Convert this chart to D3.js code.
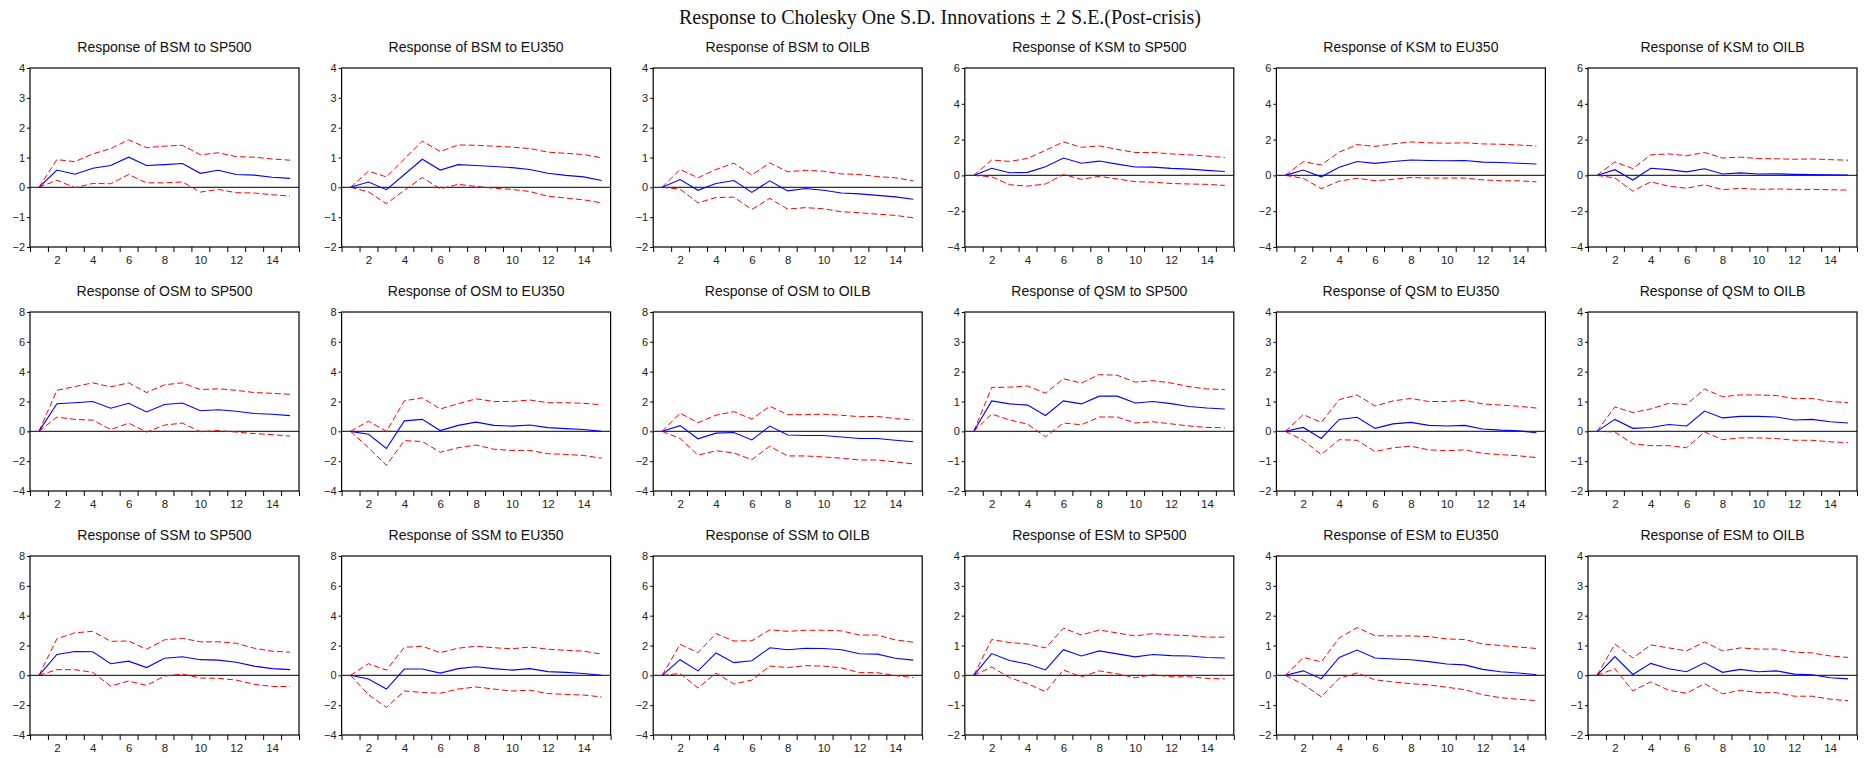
<!DOCTYPE html>
<html>
<head>
<meta charset="utf-8">
<script src="https://cdn.jsdelivr.net/npm/d3@7"></script>
<style>
  body { margin: 0; background: #fff; }
  svg { display: block; }
  .tick text { font-family: "Liberation Sans Narrow", "Arial Narrow", "Liberation Sans", Arial, sans-serif; fill: #222; }
  .ptitle { font-family: "Liberation Sans Narrow", "Arial Narrow", "Liberation Sans", Arial, sans-serif; font-size: 14px; fill: #111; }
  .mtitle { font-family: "Liberation Serif", "Times New Roman", serif; font-size: 20px; fill: #111; }
</style>
</head>
<body>
<svg width="1868" height="758"></svg>
<script>
const svg = d3.select('svg');

const mainTitle = "Response to Cholesky One S.D. Innovations \u00b1 2 S.E.(Post-crisis)";

const periods = [1, 2, 3, 4, 5, 6, 7, 8, 9, 10, 11, 12, 13, 14, 15];
const xLabels = [2, 4, 6, 8, 10, 12, 14];

const panelTitles = [
  "Response of BSM to SP500", "Response of BSM to EU350", "Response of BSM to OILB",
  "Response of KSM to SP500", "Response of KSM to EU350", "Response of KSM to OILB",
  "Response of OSM to SP500", "Response of OSM to EU350", "Response of OSM to OILB",
  "Response of QSM to SP500", "Response of QSM to EU350", "Response of QSM to OILB",
  "Response of SSM to SP500", "Response of SSM to EU350", "Response of SSM to OILB",
  "Response of ESM to SP500", "Response of ESM to EU350", "Response of ESM to OILB"
];

// y axis range and tick step of each panel
const yRanges = [
  [-2, 4], [-2, 4], [-2, 4], [-4, 6], [-4, 6], [-4, 6],
  [-4, 8], [-4, 8], [-4, 8], [-2, 4], [-2, 4], [-2, 4],
  [-4, 8], [-4, 8], [-4, 8], [-2, 4], [-2, 4], [-2, 4]
];
const yTickSteps = [1, 1, 1, 2, 2, 2, 2, 2, 2, 1, 1, 1, 2, 2, 2, 1, 1, 1];

// impulse responses (blue)
const responseMid = [
  [0, 0.58, 0.44, 0.64, 0.73, 1.01, 0.73, 0.76, 0.80, 0.47, 0.57, 0.43, 0.41, 0.34, 0.30],
  [0, 0.18, -0.08, 0.43, 0.94, 0.58, 0.76, 0.73, 0.70, 0.66, 0.60, 0.47, 0.40, 0.35, 0.23],
  [0, 0.26, -0.10, 0.13, 0.23, -0.17, 0.22, -0.12, -0.04, -0.10, -0.19, -0.22, -0.27, -0.32, -0.40],
  [0, 0.40, 0.15, 0.17, 0.48, 0.97, 0.68, 0.80, 0.63, 0.47, 0.46, 0.39, 0.35, 0.28, 0.22],
  [0, 0.30, -0.08, 0.45, 0.78, 0.67, 0.78, 0.86, 0.83, 0.82, 0.83, 0.74, 0.72, 0.68, 0.64],
  [0, 0.32, -0.26, 0.40, 0.32, 0.20, 0.37, 0.08, 0.14, 0.08, 0.09, 0.06, 0.05, 0.04, 0.02],
  [0, 1.85, 1.92, 2.00, 1.55, 1.88, 1.30, 1.80, 1.90, 1.38, 1.45, 1.35, 1.20, 1.15, 1.05],
  [0, -0.20, -1.15, 0.70, 0.80, 0.05, 0.40, 0.62, 0.40, 0.35, 0.42, 0.25, 0.18, 0.12, 0.00],
  [0, 0.38, -0.50, -0.12, -0.08, -0.58, 0.35, -0.25, -0.28, -0.28, -0.38, -0.48, -0.48, -0.60, -0.70],
  [0, 1.02, 0.92, 0.88, 0.53, 1.02, 0.92, 1.18, 1.18, 0.95, 1.00, 0.93, 0.83, 0.78, 0.75],
  [0, 0.13, -0.24, 0.40, 0.47, 0.10, 0.25, 0.30, 0.20, 0.18, 0.20, 0.08, 0.04, 0.02, -0.05],
  [0, 0.40, 0.10, 0.13, 0.23, 0.18, 0.68, 0.45, 0.50, 0.50, 0.48, 0.38, 0.40, 0.32, 0.28],
  [0, 1.40, 1.60, 1.58, 0.78, 0.95, 0.52, 1.15, 1.25, 1.05, 1.02, 0.88, 0.62, 0.45, 0.38],
  [0, -0.25, -0.92, 0.42, 0.42, 0.15, 0.45, 0.58, 0.45, 0.35, 0.45, 0.25, 0.20, 0.12, 0.00],
  [0, 1.05, 0.30, 1.50, 0.85, 0.98, 1.85, 1.72, 1.82, 1.80, 1.72, 1.45, 1.42, 1.15, 1.02],
  [0, 0.73, 0.50, 0.38, 0.18, 0.86, 0.65, 0.82, 0.72, 0.62, 0.70, 0.66, 0.65, 0.60, 0.58],
  [0, 0.15, -0.12, 0.60, 0.85, 0.58, 0.55, 0.52, 0.46, 0.38, 0.35, 0.20, 0.12, 0.08, 0.02],
  [0, 0.63, 0.03, 0.40, 0.22, 0.12, 0.42, 0.10, 0.20, 0.12, 0.15, 0.04, 0.02, -0.08, -0.12]
];

// +2 S.E. band (red dashed)
const responseUpper = [
  [0, 0.93, 0.86, 1.12, 1.30, 1.59, 1.33, 1.38, 1.41, 1.09, 1.16, 1.03, 1.01, 0.95, 0.91],
  [0, 0.54, 0.35, 0.95, 1.55, 1.20, 1.42, 1.41, 1.38, 1.35, 1.30, 1.18, 1.14, 1.10, 0.99],
  [0, 0.60, 0.32, 0.60, 0.81, 0.41, 0.82, 0.52, 0.57, 0.54, 0.45, 0.43, 0.36, 0.32, 0.22],
  [0, 0.86, 0.78, 0.95, 1.40, 1.87, 1.57, 1.65, 1.45, 1.28, 1.28, 1.20, 1.15, 1.08, 1.00],
  [0, 0.77, 0.58, 1.30, 1.72, 1.62, 1.76, 1.87, 1.82, 1.80, 1.82, 1.76, 1.74, 1.70, 1.64],
  [0, 0.76, 0.38, 1.15, 1.20, 1.10, 1.28, 0.97, 1.02, 0.94, 0.93, 0.90, 0.92, 0.88, 0.85],
  [0, 2.75, 3.00, 3.25, 2.98, 3.25, 2.60, 3.12, 3.25, 2.80, 2.85, 2.75, 2.60, 2.55, 2.48],
  [0, 0.68, 0.00, 2.05, 2.25, 1.50, 1.85, 2.18, 2.00, 2.00, 2.10, 1.92, 1.92, 1.88, 1.78],
  [0, 1.22, 0.58, 1.08, 1.32, 0.82, 1.68, 1.12, 1.12, 1.15, 1.08, 0.98, 1.00, 0.85, 0.78],
  [0, 1.47, 1.48, 1.52, 1.28, 1.76, 1.62, 1.90, 1.88, 1.65, 1.70, 1.62, 1.50, 1.42, 1.40],
  [0, 0.56, 0.30, 1.06, 1.22, 0.85, 1.02, 1.10, 1.00, 1.00, 1.04, 0.92, 0.88, 0.84, 0.78],
  [0, 0.82, 0.63, 0.75, 0.94, 0.90, 1.42, 1.16, 1.22, 1.22, 1.20, 1.10, 1.10, 1.00, 0.96],
  [0, 2.45, 2.85, 2.95, 2.28, 2.30, 1.75, 2.38, 2.48, 2.25, 2.25, 2.15, 1.82, 1.62, 1.55],
  [0, 0.78, 0.35, 1.88, 1.95, 1.52, 1.82, 1.95, 1.85, 1.78, 1.90, 1.75, 1.68, 1.62, 1.42],
  [0, 2.08, 1.52, 2.80, 2.30, 2.32, 3.05, 2.95, 3.02, 3.02, 2.98, 2.70, 2.70, 2.38, 2.22],
  [0, 1.20, 1.10, 1.05, 0.92, 1.58, 1.35, 1.52, 1.42, 1.32, 1.40, 1.35, 1.33, 1.28, 1.28],
  [0, 0.60, 0.45, 1.25, 1.60, 1.33, 1.32, 1.32, 1.30, 1.22, 1.20, 1.05, 1.00, 0.95, 0.90],
  [0, 1.05, 0.58, 1.02, 0.92, 0.82, 1.12, 0.82, 0.92, 0.88, 0.88, 0.78, 0.75, 0.65, 0.60]
];

// -2 S.E. band (red dashed)
const responseLower = [
  [0, 0.24, -0.01, 0.13, 0.12, 0.43, 0.15, 0.15, 0.18, -0.16, -0.07, -0.18, -0.19, -0.25, -0.29],
  [0, -0.15, -0.55, -0.10, 0.33, -0.05, 0.10, 0.03, -0.03, -0.07, -0.14, -0.30, -0.36, -0.42, -0.52],
  [0, -0.06, -0.52, -0.34, -0.33, -0.74, -0.37, -0.73, -0.68, -0.72, -0.82, -0.85, -0.90, -0.94, -1.02],
  [0, -0.08, -0.52, -0.60, -0.48, 0.05, -0.22, -0.05, -0.20, -0.35, -0.38, -0.45, -0.48, -0.50, -0.56],
  [0, -0.16, -0.74, -0.32, -0.16, -0.30, -0.22, -0.12, -0.15, -0.15, -0.15, -0.25, -0.30, -0.30, -0.36],
  [0, -0.14, -0.88, -0.36, -0.60, -0.72, -0.52, -0.80, -0.72, -0.78, -0.76, -0.78, -0.78, -0.80, -0.82],
  [0, 0.95, 0.80, 0.75, 0.12, 0.55, -0.05, 0.42, 0.55, -0.02, 0.05, -0.05, -0.15, -0.22, -0.32],
  [0, -1.10, -2.28, -0.62, -0.68, -1.40, -1.10, -0.92, -1.20, -1.28, -1.28, -1.50, -1.55, -1.62, -1.80],
  [0, -0.48, -1.60, -1.30, -1.45, -1.90, -1.00, -1.65, -1.65, -1.72, -1.80, -1.92, -1.92, -2.05, -2.18],
  [0, 0.58, 0.38, 0.24, -0.18, 0.28, 0.22, 0.48, 0.48, 0.28, 0.32, 0.25, 0.18, 0.13, 0.12],
  [0, -0.30, -0.78, -0.28, -0.30, -0.68, -0.55, -0.50, -0.62, -0.65, -0.62, -0.74, -0.78, -0.82, -0.88],
  [0, -0.02, -0.42, -0.48, -0.48, -0.55, -0.02, -0.28, -0.22, -0.22, -0.24, -0.30, -0.30, -0.35, -0.38],
  [0, 0.38, 0.38, 0.20, -0.72, -0.38, -0.68, -0.05, 0.08, -0.18, -0.20, -0.32, -0.60, -0.75, -0.75],
  [0, -1.30, -2.15, -1.05, -1.15, -1.20, -0.92, -0.78, -0.92, -1.05, -1.00, -1.22, -1.28, -1.32, -1.45],
  [0, 0.12, -0.85, 0.15, -0.58, -0.32, 0.62, 0.52, 0.65, 0.62, 0.50, 0.18, 0.18, -0.02, -0.15],
  [0, 0.28, -0.08, -0.28, -0.55, 0.18, -0.05, 0.15, 0.05, -0.08, 0.02, -0.05, -0.05, -0.10, -0.12],
  [0, -0.30, -0.72, -0.10, 0.08, -0.15, -0.22, -0.28, -0.32, -0.40, -0.48, -0.65, -0.75, -0.80, -0.85],
  [0, 0.22, -0.52, -0.22, -0.50, -0.60, -0.28, -0.62, -0.50, -0.58, -0.58, -0.70, -0.70, -0.80, -0.85]
];

const layout = { left: 30, colStep: 311.6, rowTops: [68, 312, 556], width: 269, height: 179, cols: 6 };

svg.append('text')
  .attr('class', 'mtitle')
  .attr('x', 940)
  .attr('y', 24)
  .attr('text-anchor', 'middle')
  .text(mainTitle);

let drawPanel = (i) => {
  const col = i % layout.cols;
  const row = Math.floor(i / layout.cols);
  const w = layout.width, h = layout.height;
  const g = svg.append('g')
    .attr('transform', 'translate(' + (layout.left + col * layout.colStep) + ',' + layout.rowTops[row] + ')');

  const x = d3.scaleLinear().domain([0.5, 15.5]).range([0, w]);
  const y = d3.scaleLinear().domain(yRanges[i]).range([h, 0]);

  g.append('text')
    .attr('class', 'ptitle')
    .attr('x', w / 2)
    .attr('y', -16)
    .attr('text-anchor', 'middle')
    .text(panelTitles[i]);

  // y axis
  const yTicks = d3.range(yRanges[i][0], yRanges[i][1] + 0.001, yTickSteps[i]);
  const yAxis = g.append('g')
    .call(d3.axisLeft(y).tickValues(yTicks).tickSize(3).tickPadding(2).tickFormat(d3.format('d')));
  yAxis.select('.domain').remove();
  yAxis.selectAll('text').style('font-size', '11px');

  // x axis: ticks between periods, labels on even periods
  const xTicks = d3.range(0.5, 15.6, 1);
  const xAxis = g.append('g')
    .attr('transform', 'translate(0,' + h + ')')
    .call(d3.axisBottom(x).tickValues(xTicks).tickSize(5).tickFormat(''));
  xAxis.select('.domain').remove();
  const xLab = g.append('g')
    .attr('transform', 'translate(0,' + h + ')')
    .call(d3.axisBottom(x).tickValues(xLabels).tickSize(0).tickPadding(9));
  xLab.select('.domain').remove();
  xLab.selectAll('text').style('font-size', '11.5px');

  // zero line
  g.append('line')
    .attr('x1', 0).attr('x2', w)
    .attr('y1', y(0)).attr('y2', y(0))
    .style('stroke', '#333')
    .style('stroke-width', 1.3);

  const line = d3.line()
    .x((d, k) => x(periods[k]))
    .y(d => y(d));

  g.append('path')
    .datum(responseUpper[i])
    .attr('d', line)
    .style('fill', 'none')
    .style('stroke', '#ff0000')
    .style('stroke-width', 1)
    .style('stroke-dasharray', '6,3');

  g.append('path')
    .datum(responseLower[i])
    .attr('d', line)
    .style('fill', 'none')
    .style('stroke', '#ff0000')
    .style('stroke-width', 1)
    .style('stroke-dasharray', '6,3');

  g.append('path')
    .datum(responseMid[i])
    .attr('d', line)
    .style('fill', 'none')
    .style('stroke', '#0000ff')
    .style('stroke-width', 1.1);

  // frame
  g.append('rect')
    .attr('x', 0).attr('y', 0)
    .attr('width', w).attr('height', h)
    .style('fill', 'none')
    .style('stroke', '#000')
    .style('stroke-width', 1.2);
};

panelTitles.forEach((t, i) => drawPanel(i));
</script>
</body>
</html>
